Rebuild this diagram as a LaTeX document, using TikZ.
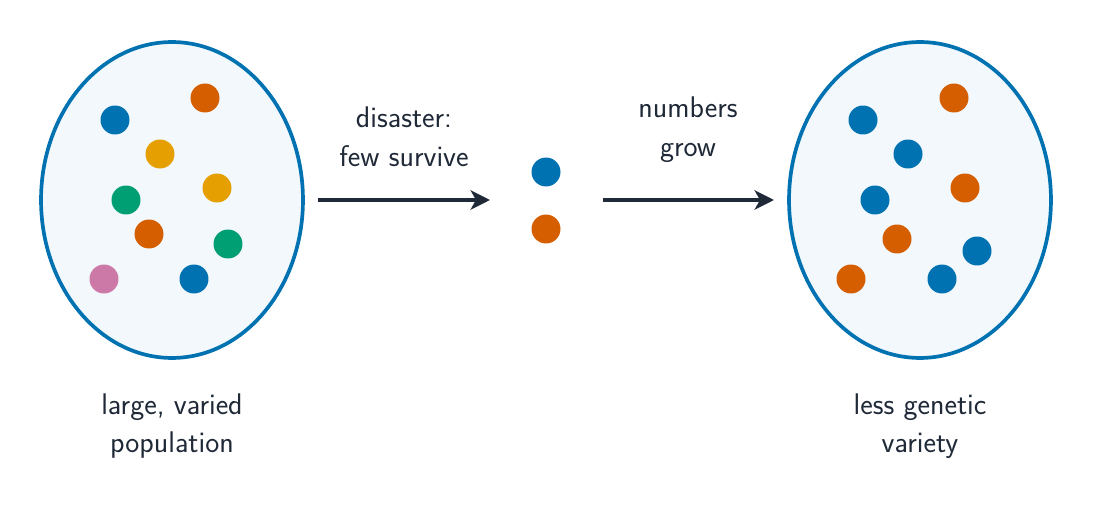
\documentclass[tikz,border=0pt]{standalone}
\usetikzlibrary{arrows.meta}
\begin{document}
\begin{tikzpicture}[x=0.02cm,y=-0.02cm,
  txt/.style={text=ink,font=\sffamily\fontsize{17}{22}\selectfont,align=center},
  dot/.style={circle,inner sep=0pt,minimum size=0.58cm,fill=#1},
  arr/.style={draw=ink,line width=2.3pt,-{Stealth[length=11pt,width=11pt,inset=3pt]}}]
\definecolor{cb}{HTML}{0072B2}\definecolor{co}{HTML}{D55E00}
\definecolor{cy}{HTML}{E69F00}\definecolor{cg}{HTML}{009E73}
\definecolor{cp}{HTML}{CC79A7}\definecolor{ink}{HTML}{1F2937}
\definecolor{pale}{HTML}{F2F8FB}
\useasboundingbox (0,0) rectangle (1093,513);
\draw[draw=cb,fill=pale,line width=2.1pt] (172,200) ellipse [x radius=2.62cm,y radius=3.16cm];
\draw[draw=cb,fill=pale,line width=2.1pt] (920,200) ellipse [x radius=2.62cm,y radius=3.16cm];
\foreach \n/\x/\y/\c in {a1/115/120/cb,a2/205/98/co,a3/160/154/cy,a4/217/188/cy,a5/126/200/cg,a6/149/234/co,a7/228/244/cg,a8/104/279/cp,a9/194/279/cb,
 m1/546/172/cb,m2/546/229/co,
 b1/954/98/co,b2/863/120/cb,b3/908/154/cb,b4/965/188/co,b5/875/200/cb,b6/897/239/co,b7/977/251/cb,b8/851/279/co,b9/942/279/cb}
  \node[dot=\c] (\n) at (\x,\y) {};
\coordinate (s1) at (318,200); \coordinate (e1) at (490,200);
\coordinate (s2) at (603,200); \coordinate (e2) at (774,200);
\draw[arr] (s1) -- (e1);
\draw[arr] (s2) -- (e2);
\node[txt] (t1) at (404,137) {disaster:\\few survive};
\node[txt] (t2) at (688,130) {numbers\\grow};
\node[txt] (t3) at (172,426) {large, varied\\population};
\node[txt] (t4) at (920,426) {less genetic\\variety};
\end{tikzpicture}
\end{document}
